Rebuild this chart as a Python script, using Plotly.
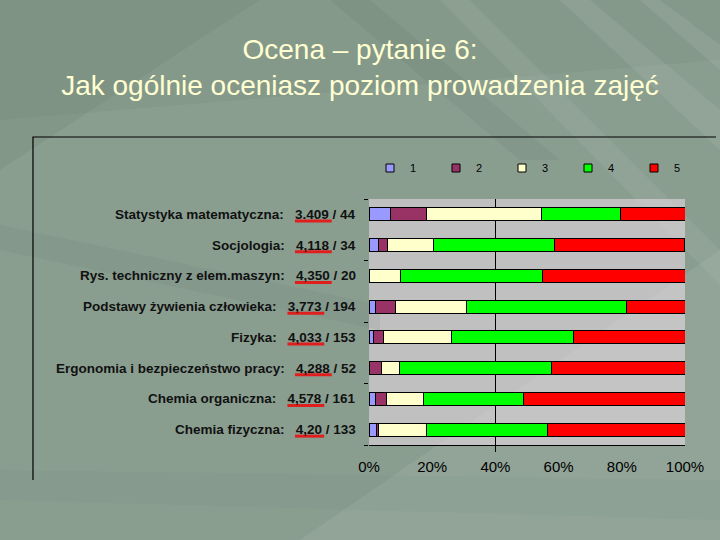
import plotly.graph_objects as go

# ---------------- data ----------------
subjects = ["Statystyka matematyczna", "Socjologia", "Rys. techniczny z elem.maszyn",
            "Podstawy żywienia człowieka", "Fizyka", "Ergonomia i bezpieczeństwo pracy",
            "Chemia organiczna", "Chemia fizyczna"]
mean_labels = ["3.409", "4,118", "4,350", "3,773", "4,033", "4,288", "4,578", "4,20"]
respondents = [44, 34, 20, 194, 153, 52, 161, 133]

grade_names = ["1", "2", "3", "4", "5"]
grade1 = [6.8, 2.9, 0.0, 2.1, 1.3, 0.0, 2.2, 2.3]
grade2 = [11.4, 2.9, 0.0, 6.2, 3.3, 3.8, 3.4, 0.8]
grade3 = [36.4, 14.7, 10.0, 22.7, 21.6, 5.8, 11.6, 15.0]
grade4 = [25.0, 38.2, 45.0, 50.5, 38.6, 48.1, 31.6, 38.3]
grade5 = [20.4, 41.2, 45.0, 18.6, 35.3, 42.3, 51.2, 43.6]
grade_colors = ["#9999FF", "#993366", "#FFFFCC", "#00FF00", "#FF0000"]

x_tick_values = [0, 20, 40, 60, 80, 100]
x_tick_labels = ["0%", "20%", "40%", "60%", "80%", "100%"]
gridline_values = [40]

# ---------------- figure ----------------
W, H = 720, 540
fig = go.Figure()

series = [grade1, grade2, grade3, grade4, grade5]
for name, vals, col in zip(grade_names, series, grade_colors):
    fig.add_trace(go.Bar(
        y=subjects, x=vals, orientation="h", name=name,
        marker=dict(color=col, line=dict(color="black", width=1)),
        showlegend=False, hoverinfo="x+y"))

# legend entries with small square markers
for name, col in zip(grade_names, grade_colors):
    fig.add_trace(go.Scatter(
        x=[None], y=[None], mode="markers", name=name,
        marker=dict(symbol="square", size=8, color=col, line=dict(color="black", width=1))))

# invisible helper trace for the boundary-tick axis
fig.add_trace(go.Scatter(x=[None], y=[None], yaxis="y2", showlegend=False,
                         hoverinfo="skip", mode="markers"))

FONT = "Liberation Sans, Arial, sans-serif"
LBL_SIZE = 13.5

# Arial bold advance widths (em) for the characters used in the statistics
BOLD_W = {d: 0.556 for d in "0123456789"}
BOLD_W.update({",": 0.278, ".": 0.278, " ": 0.278, "/": 0.278})


def text_w(s):
    return sum(BOLD_W.get(c, 0.556) for c in s) * LBL_SIZE


stats_right_px = 358
annotations = []
shapes = []
for subj, m, n in zip(subjects, mean_labels, respondents):
    rest = f" / {n}"
    annotations.append(dict(
        x=stats_right_px / W, xref="paper", y=subj, yref="y",
        xanchor="right", yanchor="middle", showarrow=False,
        text=f"{subj}:\u00a0\u00a0\u00a0{m}{rest}",
        font=dict(family=FONT, size=LBL_SIZE, color="#111111", weight="bold")))
    w_rest = text_w(rest)
    w_num = text_w(m)
    shapes.append(dict(
        type="line", xref="paper", yref="y", xsizemode="pixel", ysizemode="pixel",
        xanchor=stats_right_px / W, yanchor=subj,
        x0=-(w_rest + w_num) - 3, x1=-w_rest, y0=-6.5, y1=-6.5,
        line=dict(color="#E01E1E", width=3)))

# background decoration (streaks of the slide template)
def poly(pts, color, op):
    path = "M " + " L ".join(f"{x / W:.4f},{1 - y / H:.4f}" for x, y in pts) + " Z"
    return dict(type="path", xref="paper", yref="paper", path=path,
                fillcolor=color, opacity=op, line=dict(width=0), layer="below")

shapes_bg = [
    poly([(0, 0), (260, 0), (0, 170)], "#5e7264", 0.15),
    poly([(0, 0), (720, 0), (720, 60), (0, 120)], "#5e7264", 0.10),
    poly([(0, 225), (0, 250), (380, 330), (380, 305)], "#5a6e60", 0.10),
    poly([(0, 470), (0, 500), (720, 520), (720, 480)], "#5a6e60", 0.06),
    poly([(330, 0), (370, 0), (560, 160), (520, 160)], "#4f6356", 0.10),
    poly([(440, 0), (470, 0), (720, 250), (720, 285)], "#ffffff", 0.06),
    poly([(560, 0), (590, 0), (720, 110), (720, 150)], "#ffffff", 0.07),
    poly([(640, 0), (660, 0), (720, 45), (720, 70)], "#ffffff", 0.07),
    poly([(720, 250), (720, 540), (300, 540)], "#ffffff", 0.07),
]

# chart frame (top and left edge)
fx0, fx1, fy0, fy1 = 33, 716, 137, 480
frame = dict(type="path", xref="paper", yref="paper",
             path=f"M {fx0 / W:.4f},{1 - fy1 / H:.4f} L {fx0 / W:.4f},{1 - fy0 / H:.4f} L {fx1 / W:.4f},{1 - fy0 / H:.4f}",
             line=dict(color="black", width=1.2))

fig.update_layout(
    width=W, height=H,
    margin=dict(l=0, r=0, t=0, b=0, autoexpand=False),
    paper_bgcolor="#8a9e90",
    plot_bgcolor="#C0C0C0",
    barmode="stack",
    bargap=0.585,
    font=dict(family=FONT, color="black"),
    title=dict(text="Ocena – pytanie 6:<br>Jak ogólnie oceniasz poziom prowadzenia zajęć",
               x=0.5, xanchor="center", y=1 - 59 / H, yanchor="top", yref="paper",
               font=dict(family=FONT, size=28, color="#FFFFD2")),
    xaxis=dict(domain=[369 / W, 685 / W], range=[0, 100], tickvals=x_tick_values,
               ticktext=x_tick_labels, ticks="", showgrid=False, zeroline=False,
               showline=True, linecolor="black", linewidth=1,
               tickfont=dict(family=FONT, size=15, color="black"),
               ticklabelstandoff=8,
               minor=dict(tickmode="array", tickvals=gridline_values, showgrid=True,
                          gridcolor="black", gridwidth=1, ticks="outside",
                          ticklen=6, tickcolor="black")),
    yaxis=dict(domain=[1 - 445 / H, 1 - 199 / H], autorange="reversed",
               showticklabels=False, ticks="", showgrid=False, zeroline=False,
               showline=False),
    yaxis2=dict(overlaying="y", anchor="x", side="left", range=[7.5, -0.5],
                tickvals=[-0.5, 1.5, 3.5, 5.5, 7.5], ticks="outside", ticklen=4,
                tickcolor="black", showticklabels=False, showgrid=False,
                zeroline=False, showline=False),
    legend=dict(orientation="h", x=370 / W, y=1 - 168 / H, xanchor="left",
                yanchor="middle", bgcolor="rgba(0,0,0,0)", traceorder="normal",
                font=dict(family=FONT, size=11, color="black"),
                entrywidth=21, entrywidthmode="pixels", itemwidth=30,
                tracegroupgap=0),
    annotations=annotations,
    shapes=shapes_bg + [frame] + shapes,
)

fig.write_html("out.html", config={"displayModeBar": False},
               post_script="document.body.style.margin='0';document.body.style.overflow='hidden';")
